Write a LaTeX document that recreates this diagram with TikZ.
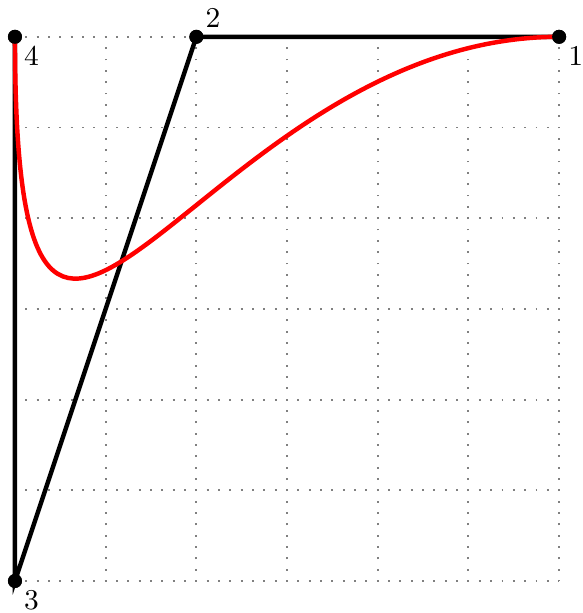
\documentclass[tikz,border=0pt]{standalone}
\begin{document}
\begin{tikzpicture}[
  pt/.style={circle,fill=black,inner sep=0pt,minimum size=4.4pt},
  lbl/.style={inner sep=1pt,font=\small},
  gridline/.style={gray,line width=0.6pt,dash pattern=on 0.6pt off 2.9566pt,dash phase=0.3pt}]
\useasboundingbox (-0.165,-0.353) rectangle (6.262,6.406);
\draw[gridline] (0,0) grid (6,6);
\node[pt] (p1) at (6,6) {};
\node[pt] (p2) at (2,6) {};
\node[pt] (p3) at (0,0) {};
\node[pt] (p4) at (0,6) {};
\draw[line width=1.4pt] (p1.center) -- (p2.center) -- (p3.center) -- (p4.center);
\draw[red,line width=1.4pt] (p1.center) .. controls (p2.center) and (p3.center) .. (p4.center);
\fill (p1) circle (2.2pt) (p2) circle (2.2pt) (p3) circle (2.2pt) (p4) circle (2.2pt);
\node[lbl,anchor=north west] (l1) at (p1.south east) {1};
\node[lbl,anchor=south west] (l2) at (p2.north east) {2};
\node[lbl,anchor=north west] (l3) at (p3.south east) {3};
\node[lbl,anchor=north west] (l4) at (p4.south east) {4};
\end{tikzpicture}
\end{document}
